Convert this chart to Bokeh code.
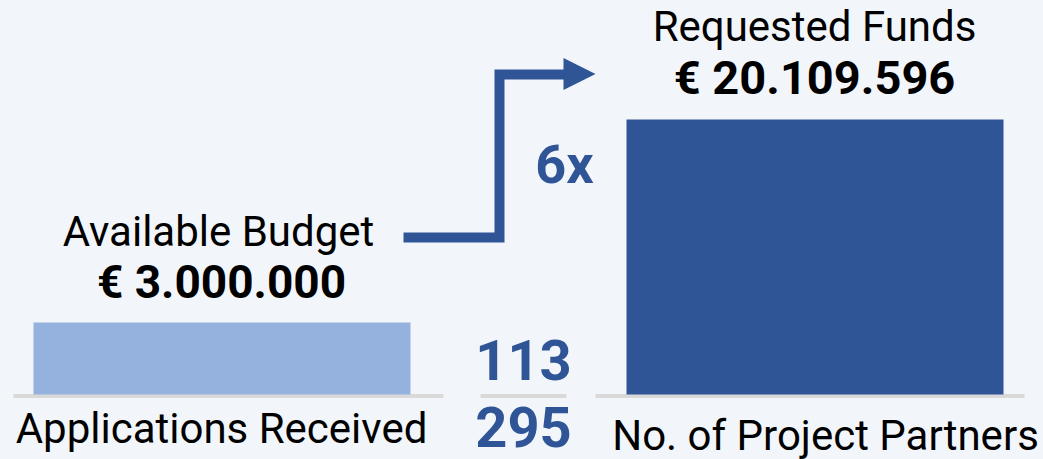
from bokeh.plotting import figure
from bokeh.models import Range1d, LogScale
from bokeh.core.properties import value
from bokeh.embed import file_html
from bokeh.resources import INLINE

# ---- data ----
categories = ["Available Budget", "Requested Funds"]
amounts = [3000000, 20109596]
amount_labels = ["€ 3.000.000", "€ 20.109.596"]
count_labels = ["Applications Received", "No. of Project Partners"]
counts = [113, 295]
ratio_label = f"{int(amounts[1] / amounts[0])}x"

# ---- style ----
BG = "#F2F6FB"
LIGHT = "#95B1DD"
DARK = "#2F5597"
GREY = "#D9D9D9"
W, H = 1043, 459

p = figure(width=W, height=H, output_backend="svg", toolbar_location=None,
           x_range=Range1d(0, W), y_range=Range1d(H, 0),
           x_axis_type=None, y_axis_type=None, min_border=0)
p.background_fill_color = BG
p.border_fill_color = BG
p.outline_line_color = None
p.grid.visible = False

# log scale for the bars
p.extra_y_ranges = {"amt": Range1d(8.30e5, 6.13e7)}
p.extra_y_scales = {"amt": LogScale()}
BASE = 1.528e6

bar_x = [221.5, 814.5]

# baselines
p.segment(x0=[13, 480, 595], x1=[443, 566, 1024], y0=[395.5] * 3, y1=[395.5] * 3,
          line_color=GREY, line_width=4)

p.vbar(x=bar_x, width=377, bottom=BASE, top=amounts, y_range_name="amt",
       fill_color=[LIGHT, DARK], line_color=None)

# arrow
p.line(x=[403, 499, 499, 566], y=[237, 237, 74, 74], line_width=10,
       line_color=DARK, line_join="miter", line_cap="butt")
p.patch(x=[563, 563, 595], y=[57.5, 89.5, 73.5], fill_color=DARK, line_color=None)

FONT = value("Roboto")

# category titles
p.text(x=[218, 814], y=[231, 26], text=categories, text_font=FONT,
       text_font_size="42px", text_align="center", text_baseline="alphabetic",
       text_color="black")
# amounts
p.text(x=[221], y=[281], text=amount_labels[:1], text_font=FONT,
       text_font_size="46px", text_font_style="bold", text_align="center",
       text_baseline="alphabetic", text_color="black")
p.text(x=[814], y=[77], text=amount_labels[1:], text_font=FONT,
       text_font_size="47px", text_font_style="bold", text_align="center",
       text_baseline="alphabetic", text_color="black")
# bottom labels
p.text(x=[221, 825], y=[428, 435], text=count_labels, text_font=FONT,
       text_font_size="42px", text_align="center", text_baseline="alphabetic",
       text_color="black")
# counts
p.text(x=[523, 523], y=[359, 426], text=[str(c) for c in counts], text_font=FONT,
       text_font_size="56px", text_font_style="bold", text_align="center",
       text_baseline="alphabetic", text_color=DARK)
# ratio
p.text(x=[564], y=[164], text=[ratio_label], text_font=FONT,
       text_font_size="54px", text_font_style="bold", text_align="center",
       text_baseline="alphabetic", text_color=DARK)

html = file_html(p, INLINE, title="chart")
html = html.replace("<head>", "<head><style>html,body{margin:0;padding:0;overflow:hidden;background:%s}</style>" % BG, 1)
open("out.html", "w").write(html)
